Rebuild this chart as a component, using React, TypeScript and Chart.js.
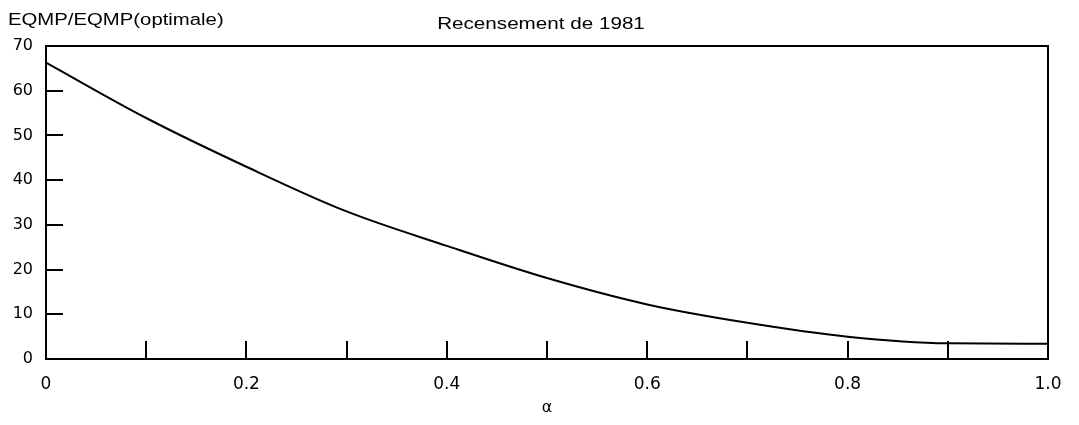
import React, { useEffect, useRef } from "react";
import { Chart, registerables } from "chart.js";

Chart.register(...registerables);

const alphaValues = [0, 0.1, 0.2, 0.3, 0.4, 0.5, 0.6, 0.7, 0.8, 0.9, 1.0];
const ratioValues = [66.3, 53.9, 43.0, 33.0, 25.3, 18.1, 12.2, 8.1, 5.0, 3.5, 3.4];
const xMinorTicks = [0.1, 0.2, 0.3, 0.4, 0.5, 0.6, 0.7, 0.8, 0.9];
const yMinorTicks = [10, 20, 30, 40, 50, 60];
const chartTitle = "Recensement de 1981";
const yAxisTitle = "EQMP/EQMP(optimale)";
const xAxisTitle = "α";

const framePlugin = {
  id: "frame",
  afterDatasetsDraw(chart: any) {
    const { ctx, chartArea: a, scales } = chart;
    ctx.save();
    ctx.strokeStyle = "#000";
    ctx.lineWidth = 2;
    ctx.strokeRect(a.left, a.top, a.right - a.left, a.bottom - a.top);
    ctx.beginPath();
    for (const v of xMinorTicks) {
      const x = Math.round(scales.x.getPixelForValue(v));
      ctx.moveTo(x, a.bottom);
      ctx.lineTo(x, a.bottom - 18);
    }
    for (const v of yMinorTicks) {
      const y = Math.round(scales.y.getPixelForValue(v));
      ctx.moveTo(a.left, y);
      ctx.lineTo(a.left + 17, y);
    }
    ctx.stroke();

    ctx.fillStyle = "#000";
    ctx.font = '16px "Liberation Sans"';
    ctx.textBaseline = "alphabetic";
    ctx.save();
    ctx.translate(8, 25);
    ctx.scale(1.27, 1);
    ctx.textAlign = "left";
    ctx.fillText(yAxisTitle, 0, 0);
    ctx.restore();
    ctx.save();
    ctx.translate(541, 29);
    ctx.scale(1.29, 1);
    ctx.textAlign = "center";
    ctx.fillText(chartTitle, 0, 0);
    ctx.restore();
    ctx.restore();
  },
};

export default function App() {
  const canvasRef = useRef<HTMLCanvasElement | null>(null);

  useEffect(() => {
    if (!canvasRef.current) return;
    const chart = new Chart(canvasRef.current, {
      type: "line",
      data: {
        datasets: [
          {
            data: alphaValues.map((a, i) => ({ x: a, y: ratioValues[i] })),
            borderColor: "#000",
            borderWidth: 2,
            pointRadius: 0,
            cubicInterpolationMode: "monotone",
            fill: false,
          },
        ],
      },
      options: {
        animation: false,
        responsive: true,
        maintainAspectRatio: false,
        layout: { padding: { left: 0, top: 46, right: 31, bottom: 0 } },
        plugins: {
          legend: { display: false },
          tooltip: { enabled: false },
          title: { display: false },
        },
        scales: {
          x: {
            type: "linear",
            min: 0,
            max: 1,
            grid: { display: false, drawTicks: false },
            border: { display: false },
            ticks: {
              stepSize: 0.2,
              autoSkip: false,
              maxRotation: 0,
              padding: 15,
              color: "#000",
              font: { family: "DejaVu Sans", size: 17 },
              callback: (v: any) => (Number(v) === 0 ? "0" : Number(v).toFixed(1)),
            },
            title: {
              display: true,
              text: xAxisTitle,
              color: "#000",
              font: { family: "DejaVu Sans", size: 16 },
              padding: { top: 0, bottom: 8 },
            },
            afterFit: (s: any) => {
              s.height = 66;
            },
          },
          y: {
            min: 0,
            max: 70,
            grid: { display: false, drawTicks: false },
            border: { display: false },
            ticks: {
              stepSize: 10,
              padding: 13,
              color: "#000",
              font: { family: "DejaVu Sans", size: 16 },
            },
            afterFit: (s: any) => {
              s.width = 46;
            },
          },
        },
      },
      plugins: [framePlugin],
    });
    return () => chart.destroy();
  }, []);

  return (
    <div style={{ position: "absolute", left: 0, top: 0, width: 1079, height: 425, background: "#fff" }}>
      <canvas ref={canvasRef} />
    </div>
  );
}
